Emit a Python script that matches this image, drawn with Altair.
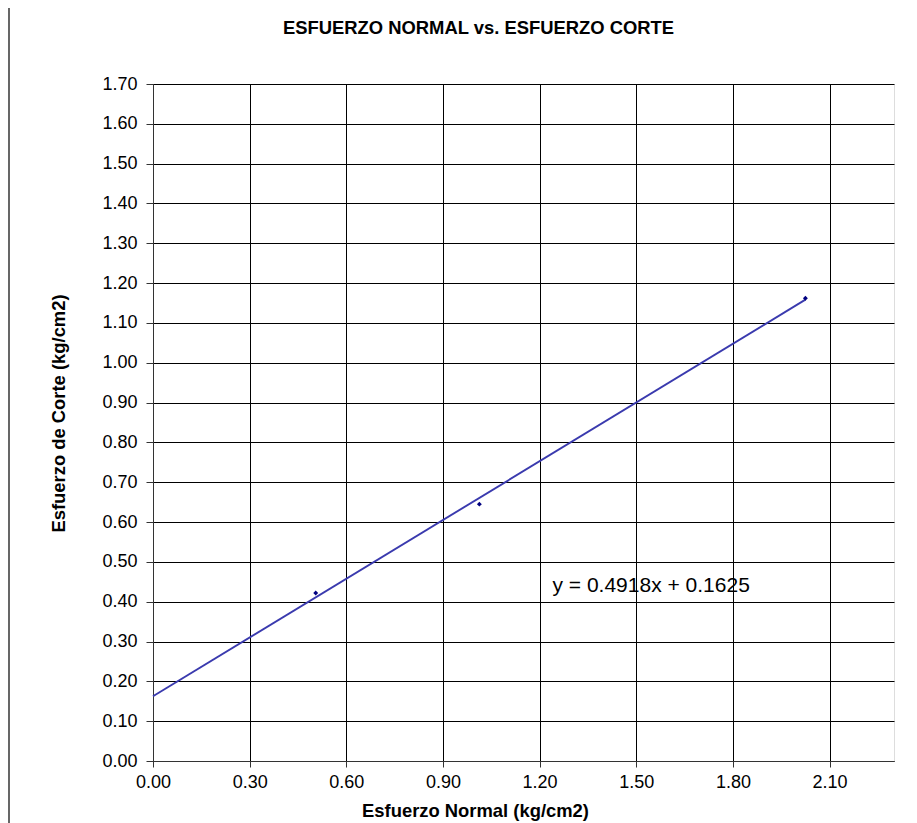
import altair as alt
import pandas as pd

# Data
normal = [0.505, 1.013, 2.025]      # Esfuerzo Normal (kg/cm2)
corte = [0.422, 0.645, 1.162]       # Esfuerzo de Corte (kg/cm2)
slope = 0.4918
intercept = 0.1625
x_ticks = [0.0, 0.3, 0.6, 0.9, 1.2, 1.5, 1.8, 2.1]
y_ticks = [round(i * 0.1, 2) for i in range(18)]
equation = "y = 0.4918x + 0.1625"

pts = pd.DataFrame({"x": normal, "y": corte})
line_x = [0.0, max(normal)]
trend = pd.DataFrame({"x": line_x, "y": [slope * v + intercept for v in line_x]})
label = pd.DataFrame({"x": [1.24], "y": [0.44], "t": [equation]})

FONT = "Liberation Sans"

xscale = alt.Scale(domain=[0, 2.3], nice=False, zero=False)
yscale = alt.Scale(domain=[0, 1.7], nice=False, zero=False)

xaxis = alt.Axis(values=x_ticks, tickCount=len(x_ticks) + 2, format=".2f", grid=True,
                 gridColor="#000000", gridOpacity=1,
                 gridWidth=1, domainColor="#333333", tickColor="#333333", tickSize=6,
                 labelPadding=6, labelFontSize=18, labelFont=FONT, labelColor="#000000",
                 labelOverlap=False, labelFlush=False,
                 title="Esfuerzo Normal (kg/cm2)", titleFont=FONT, titleFontSize=18.4,
                 titleFontWeight="bold", titleColor="#000000", titleX=322, titleY=49,
                 titleBaseline="middle")
yaxis = alt.Axis(values=y_ticks, tickCount=len(y_ticks) + 2, format=".2f", grid=True,
                 gridColor="#000000", gridOpacity=1,
                 gridWidth=1, domainColor="#333333", tickColor="#333333", tickSize=7,
                 labelPadding=9, labelFontSize=18, labelFont=FONT, labelColor="#000000",
                 labelOverlap=False, labelFlush=False,
                 title="Esfuerzo de Corte (kg/cm2)", titleFont=FONT, titleFontSize=18.4,
                 titleFontWeight="bold", titleColor="#000000", titleX=-95, titleY=329,
                 titleBaseline="middle", titleAngle=270)

base_line = alt.Chart(trend).mark_line(color="#3a3aae", strokeWidth=1.9).encode(
    x=alt.X("x:Q", scale=xscale, axis=xaxis),
    y=alt.Y("y:Q", scale=yscale, axis=yaxis),
)

points = alt.Chart(pts).mark_point(shape="diamond", filled=True, color="#000080", size=24, opacity=1).encode(
    x=alt.X("x:Q", scale=xscale),
    y=alt.Y("y:Q", scale=yscale),
)

text = alt.Chart(label).mark_text(align="left", baseline="middle", fontSize=21, font=FONT,
                                   color="#000000").encode(
    x=alt.X("x:Q", scale=xscale),
    y=alt.Y("y:Q", scale=yscale),
    text="t:N",
)

border = alt.Chart(label).mark_rule(color="#000000", strokeWidth=1.2).encode(
    x=alt.value(-144), y=alt.value(-84), y2=alt.value(739)
)

chart = alt.layer(border, base_line, points, text).properties(
    width=741,
    height=677,
    title=alt.TitleParams("ESFUERZO NORMAL vs. ESFUERZO CORTE", font=FONT, fontSize=18.4,
                          fontWeight="bold", color="#000000", anchor="middle", frame="group",
                          dx=-45, offset=-38),
    autosize=alt.AutoSizeParams(type="none"),
    padding={"left": 145, "top": 76, "right": 14, "bottom": 70},
).configure_view(stroke="#808080", strokeWidth=1.5).configure(background="white")

chart.save("out.html", embed_options={"renderer": "svg", "actions": False})
